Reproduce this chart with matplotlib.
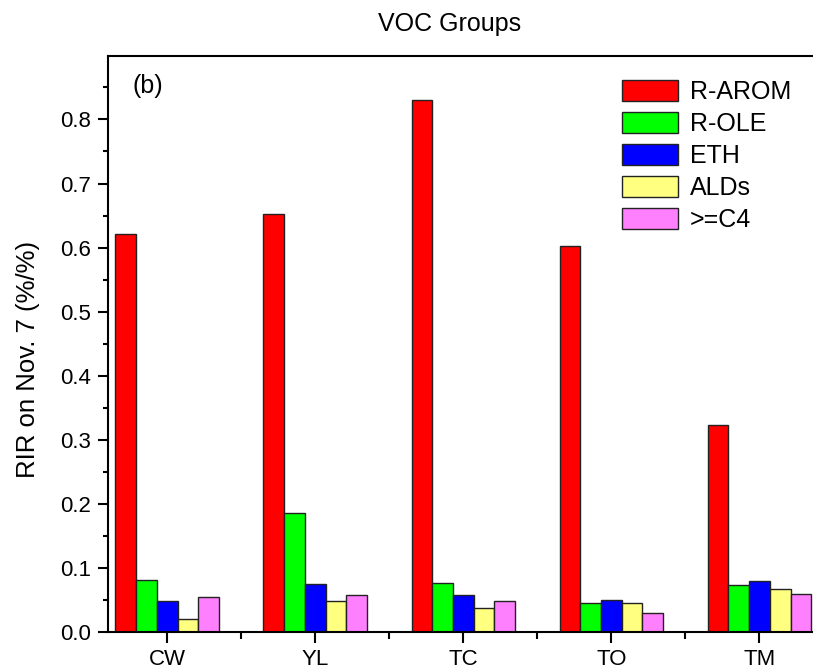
import numpy as np
import matplotlib
matplotlib.use('Agg')
import matplotlib.pyplot as plt
from matplotlib.ticker import MultipleLocator

plt.rcParams['font.family'] = ['Liberation Sans', 'DejaVu Sans']

# 数据
sites = ['CW', 'YL', 'TC', 'TO', 'TM']
groups = ['R-AROM', 'R-OLE', 'ETH', 'ALDs', '>=C4']
r_arom = [0.621, 0.652, 0.831, 0.603, 0.323]
r_ole = [0.081, 0.186, 0.077, 0.046, 0.073]
eth = [0.048, 0.075, 0.057, 0.050, 0.079]
alds = [0.020, 0.048, 0.038, 0.046, 0.067]
c4 = [0.055, 0.057, 0.048, 0.029, 0.059]
colors = ['#ff0000', '#00ff00', '#0000ff', '#ffff80', '#ff80ff']

fig = plt.figure(figsize=(8.13, 6.71), dpi=100)
ax = fig.add_axes([108 / 813, 39 / 671, 724 / 813, 576 / 671])

x = np.arange(1, len(sites) + 1)
w = 0.14
series = [r_arom, r_ole, eth, alds, c4]
for i, vals in enumerate(series):
    ax.bar(x + (i - 2) * w, vals, width=w, color=colors[i],
           edgecolor='#222222', linewidth=1.0, label=groups[i])

ax.set_xlim(0.6, 5.49)
ax.set_ylim(0, 0.899)
ax.set_xticks(x)
ax.set_xticklabels(sites)
ax.set_xticks(x[:-1] + 0.5, minor=True)
ax.yaxis.set_major_locator(MultipleLocator(0.1))
ax.yaxis.set_minor_locator(MultipleLocator(0.05))
ax.tick_params(axis='y', which='major', direction='out', length=7, width=1.5, labelsize=16, pad=5)
ax.tick_params(axis='y', which='minor', direction='out', length=3.5, width=1.5)
ax.tick_params(axis='x', which='major', direction='out', length=8, width=1.5, labelsize=16, pad=4)
ax.tick_params(axis='x', which='minor', direction='out', length=5, width=1.5)
for s in ax.spines.values():
    s.set_linewidth(1.5)

ax.set_ylabel('RIR on Nov. 7 (%/%)', fontsize=18.5)
ax.yaxis.set_label_coords(-0.094, 0.474)
# 标题
fig.text(450 / 813, 1 - 24 / 671, 'VOC Groups', fontsize=18, ha='center', va='center')
ax.text(0.034, 0.948, '(b)', transform=ax.transAxes, fontsize=18, va='center')

ax.legend(loc='upper left', bbox_to_anchor=(0.71, 0.958), frameon=False,
          fontsize=18, handlelength=2.24, handleheight=0.88,
          labelspacing=0.32, handletextpad=0.48, borderaxespad=0, borderpad=0)

fig.savefig('out.png', dpi=100)
